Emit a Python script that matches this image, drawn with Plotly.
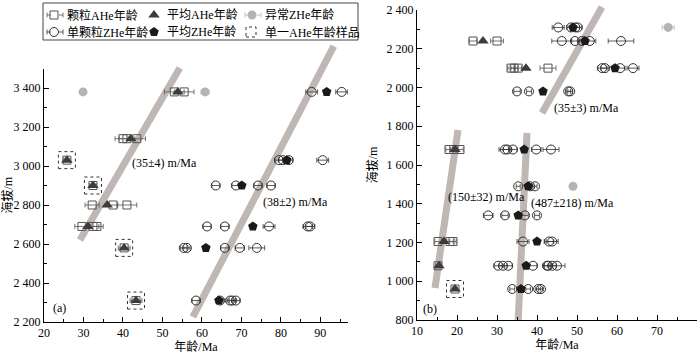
import plotly.graph_objects as go

W, H = 700, 354
FONT = "Liberation Serif, Noto Sans CJK SC"

# ---------------- data: panel (a) ----------------
a_grain_age  = [53.0, 55.5, 40.0, 41.0, 43.5, 25.8, 32.4, 32.2, 37.5, 41.0, 29.6, 32.4, 33.4, 40.3, 43.3]
a_grain_elev = [3380, 3380, 3140, 3140, 3140, 3030, 2900, 2800, 2800, 2800, 2690, 2690, 2690, 2580, 2310]
a_grain_err  = [2.5, 2.5, 2.0, 2.0, 2.2, 0.8, 0.8, 1.8, 1.2, 2.5, 1.8, 1.5, 1.6, 1.5, 1.5]

a_mean_ahe_age  = [53.9, 42.0, 25.8, 32.4, 36.0, 31.1, 40.3, 43.3]
a_mean_ahe_elev = [3380, 3140, 3030, 2900, 2800, 2690, 2580, 2310]

a_single_age  = [25.8, 32.4, 40.3, 43.3]
a_single_elev = [3030, 2900, 2580, 2310]

a_zhe_age  = [87.8, 95.4, 79.5, 80.5, 82.0, 90.6, 63.5, 68.6, 74.2, 77.5,
              61.3, 65.8, 77.0, 86.8, 87.4, 55.4, 56.2, 65.8, 69.6, 73.9,
              58.5, 64.6, 67.1, 67.7, 68.6]
a_zhe_elev = [3380, 3380, 3030, 3030, 3030, 3030, 2900, 2900, 2900, 2900,
              2690, 2690, 2690, 2690, 2690, 2580, 2580, 2580, 2580, 2580,
              2310, 2310, 2310, 2310, 2310]
a_zhe_err  = [1.5, 1.5, 1.0, 1.0, 1.0, 1.5, 1.0, 1.0, 1.0, 1.0,
              1.0, 1.0, 1.5, 1.2, 1.2, 0.8, 0.8, 1.0, 1.2, 2.0,
              1.0, 0.8, 0.8, 0.8, 1.0]

a_mean_zhe_age  = [91.6, 81.5, 70.1, 72.9, 61.0, 64.3]
a_mean_zhe_elev = [3380, 3030, 2900, 2690, 2580, 2310]

a_odd_age  = [29.9, 60.8]
a_odd_elev = [3380, 3380]
a_odd_err  = [0.0, 1.0]

a_fit1_age, a_fit1_elev = [29.1, 54.4], [2620, 3503]
a_fit2_age, a_fit2_elev = [57.7, 93.4], [2226, 3615]

a_labels      = ["(35±4) m/Ma", "(38±2) m/Ma", "(a)"]
a_label_age   = [50.6, 83.8, 23.8]
a_label_elev  = [3015, 2815, 2272]

# ---------------- data: panel (b) ----------------
b_grain_age  = [24.0, 30.0, 33.5, 34.3, 35.3, 42.75, 18.0, 19.2, 20.75, 15.25, 18.25, 19.0, 15.25, 19.5]
b_grain_elev = [2240, 2240, 2100, 2100, 2100, 2100, 1680, 1680, 1680, 1205, 1205, 1205, 1080, 960]
b_grain_err  = [1.0, 1.6, 0.8, 0.8, 0.8, 2.0, 0.8, 0.8, 0.8, 0.8, 0.8, 0.8, 0.6, 0.6]

b_mean_ahe_age  = [26.5, 37.25, 19.5, 16.75, 15.5, 19.5]
b_mean_ahe_elev = [2240, 2100, 1680, 1205, 1080, 960]

b_single_age  = [19.5]
b_single_elev = [960]

b_zhe_age  = [45.3, 48.5, 49.6, 50.2,
              46.2, 49.5, 51.2, 53.2, 61.0,
              56.3, 57.0, 60.8, 64.0,
              35.0, 38.0, 47.8, 48.3,
              32.0, 32.6, 34.0, 39.8, 43.5,
              35.3, 38.3, 39.5,
              27.8, 32.0, 37.0, 40.0,
              36.5, 43.0, 43.8,
              30.3, 31.5, 32.8, 39.0, 42.5, 42.8, 43.8, 45.0,
              33.8, 37.8, 40.3, 41.0]
b_zhe_elev = [2310, 2310, 2310, 2310,
              2240, 2240, 2240, 2240, 2240,
              2100, 2100, 2100, 2100,
              1980, 1980, 1980, 1980,
              1680, 1680, 1680, 1680, 1680,
              1490, 1490, 1490,
              1340, 1340, 1340, 1340,
              1205, 1205, 1205,
              1080, 1080, 1080, 1080, 1080, 1080, 1080, 1080,
              960, 960, 960, 960]
b_zhe_err  = [1.5, 1.0, 1.0, 1.0,
              2.5, 1.0, 1.0, 1.5, 3.2,
              1.2, 1.0, 1.2, 1.5,
              0.8, 0.6, 0.6, 0.6,
              1.5, 1.0, 1.0, 1.2, 2.0,
              0.5, 0.5, 0.5,
              1.2, 0.8, 0.8, 0.6,
              1.5, 1.2, 1.5,
              1.0, 1.0, 1.0, 1.0, 1.0, 1.0, 1.0, 2.0,
              0.6, 0.6, 0.6, 0.6]

b_mean_zhe_age  = [49.0, 52.0, 59.5, 41.5, 36.8, 37.8, 35.3, 40.0, 37.3, 36.0]
b_mean_zhe_elev = [2310, 2240, 2100, 1980, 1680, 1490, 1340, 1205, 1080, 960]

b_odd_age  = [72.8, 49.0]
b_odd_elev = [2310, 1490]
b_odd_err  = [1.5, 0.0]

b_fitA_age, b_fitA_elev = [14.5, 20.25], [965, 1781]
b_fitB_age, b_fitB_elev = [35.3, 37.5], [800, 1765]
b_fitC_age, b_fitC_elev = [41.25, 56.25], [1868, 2415]

b_labels     = ["(35±3) m/Ma", "(150±32) m/Ma", "(487±218) m/Ma", "(b)"]
b_label_age  = [52.25, 27.25, 48.75, 13.25]
b_label_elev = [1894, 1435, 1404, 857]

legend_names = ["颗粒AHe年龄", "平均AHe年龄", "异常ZHe年龄",
                "单颗粒ZHe年龄", "平均ZHe年龄", "单一AHe年龄样品"]

# ---------------- styles ----------------
FIT_COLOR = "#bfb7b4"
GRAY_DARK = "#3c3c3c"
ODD_COLOR = "#b4b4b4"
SQ_COLOR = "#555"
CI_COLOR = "#333"

fig = go.Figure()

def err(arr, color="#444"):
    return dict(type="data", array=arr, symmetric=True, thickness=0.8, width=2.5, color=color)

def fit(x, y, xa, ya):
    fig.add_trace(go.Scatter(x=x, y=y, xaxis=xa, yaxis=ya, mode="lines",
                             line=dict(color=FIT_COLOR, width=7), showlegend=False,
                             hoverinfo="skip"))

def panel(xa, ya, grain, mean_ahe, zhe, mean_zhe, odd, legend_on):
    fig.add_trace(go.Scatter(x=odd[0], y=odd[1], xaxis=xa, yaxis=ya, mode="markers",
                             error_x=err(odd[2], ODD_COLOR),
                             marker=dict(symbol="circle", size=9, color=ODD_COLOR),
                             name="", legend="legend3", showlegend=legend_on))
    fig.add_trace(go.Scatter(x=grain[0], y=grain[1], xaxis=xa, yaxis=ya, mode="markers",
                             error_x=err(grain[2], SQ_COLOR),
                             marker=dict(symbol="square-open", size=8, color=SQ_COLOR,
                                         line=dict(width=1)),
                             name="", legend="legend", showlegend=legend_on))
    fig.add_trace(go.Scatter(x=zhe[0], y=zhe[1], xaxis=xa, yaxis=ya, mode="markers",
                             error_x=err(zhe[2], CI_COLOR),
                             marker=dict(symbol="circle-open", size=9, color=CI_COLOR,
                                         line=dict(width=1)),
                             name="", legend="legend4", showlegend=legend_on))
    fig.add_trace(go.Scatter(x=mean_ahe[0], y=mean_ahe[1], xaxis=xa, yaxis=ya, mode="markers",
                             marker=dict(symbol="triangle-up", size=10, color=GRAY_DARK),
                             name="", legend="legend2", showlegend=legend_on))
    fig.add_trace(go.Scatter(x=mean_zhe[0], y=mean_zhe[1], xaxis=xa, yaxis=ya, mode="markers",
                             marker=dict(symbol="pentagon", size=10, color="#1a1a1a"),
                             name="", legend="legend5", showlegend=legend_on))

# regression lines (drawn in underlying subplots so they stay behind the points)
fit(a_fit1_age, a_fit1_elev, "x", "y")
fit(a_fit2_age, a_fit2_elev, "x", "y")
panel("x2", "y2",
      (a_grain_age, a_grain_elev, a_grain_err),
      (a_mean_ahe_age, a_mean_ahe_elev),
      (a_zhe_age, a_zhe_elev, a_zhe_err),
      (a_mean_zhe_age, a_mean_zhe_elev),
      (a_odd_age, a_odd_elev, a_odd_err), True)
fit(b_fitA_age, b_fitA_elev, "x3", "y3")
fit(b_fitB_age, b_fitB_elev, "x3", "y3")
fit(b_fitC_age, b_fitC_elev, "x3", "y3")
panel("x4", "y4",
      (b_grain_age, b_grain_elev, b_grain_err),
      (b_mean_ahe_age, b_mean_ahe_elev),
      (b_zhe_age, b_zhe_elev, b_zhe_err),
      (b_mean_zhe_age, b_mean_zhe_elev),
      (b_odd_age, b_odd_elev, b_odd_err), False)

# ---------------- layout geometry (pixels) ----------------
A_X = (44, 348);  A_XR = [20, 97]
A_Y = (322, 68.5); A_YR = [2200, 3500]
B_X = (417, 697); B_XR = [10, 80]
B_Y = (320, 10);  B_YR = [800, 2400]

def ext_range(rng, pix, new_top):
    # extend the value range linearly so that the top reaches pixel new_top
    scale = (rng[1] - rng[0]) / (pix[0] - pix[1])
    return [rng[0], rng[0] + (pix[0] - new_top) * scale]

def xdom(p): return [p[0] / W, p[1] / W]
def ydom(p): return [1 - p[0] / H, 1 - p[1] / H]

tickfont = dict(family=FONT, size=12, color="black")
titlefont = dict(family=FONT, size=12, color="black")

def vis_axis(**kw):
    d = dict(showline=True, linecolor="black", linewidth=1, ticks="inside", ticklen=5,
             tickwidth=1, tickcolor="black", showgrid=False, zeroline=False,
             tickfont=tickfont, automargin=False)
    d.update(kw)
    return d

A_top_ext = 40
B_top_ext = 0

fig.update_layout(
    width=W, height=H, margin=dict(l=0, r=0, t=0, b=0),
    paper_bgcolor="white", plot_bgcolor="rgba(0,0,0,0)",
    separators=". ",
    font=dict(family=FONT, size=12, color="black"),
    xaxis=dict(domain=xdom(A_X), range=A_XR, visible=False, anchor="y"),
    yaxis=dict(domain=ydom((A_Y[0], A_top_ext)), range=ext_range(A_YR, A_Y, A_top_ext),
               visible=False, anchor="x"),
    xaxis2=vis_axis(domain=xdom(A_X), range=A_XR, anchor="y2", tick0=0, dtick=10,
                    minor=dict(dtick=5, tick0=0, ticks="inside", ticklen=3, tickcolor="black"),
                    title=dict(text="年龄/Ma", font=titlefont, standoff=2)),
    yaxis2=vis_axis(domain=ydom(A_Y), range=A_YR, anchor="x2", tick0=0, dtick=200,
                    tickformat=",d",
                    minor=dict(dtick=100, tick0=0, ticks="inside", ticklen=3, tickcolor="black"),
                    title=dict(text="海拔/m", font=titlefont, standoff=2)),
    xaxis3=dict(domain=xdom(B_X), range=B_XR, visible=False, anchor="y3"),
    yaxis3=dict(domain=ydom((B_Y[0], B_top_ext)), range=ext_range(B_YR, B_Y, B_top_ext),
                visible=False, anchor="x3"),
    xaxis4=vis_axis(domain=xdom(B_X), range=B_XR, anchor="y4", tick0=0, dtick=10,
                    minor=dict(dtick=5, tick0=0, ticks="inside", ticklen=3, tickcolor="black"),
                    title=dict(text="年龄/Ma", font=titlefont, standoff=2)),
    yaxis4=vis_axis(domain=ydom(B_Y), range=B_YR, anchor="x4", tick0=0, dtick=200,
                    tickformat=",d",
                    minor=dict(dtick=100, tick0=0, ticks="inside", ticklen=3, tickcolor="black"),
                    title=dict(text="海拔/m", font=titlefont, standoff=6)),
    showlegend=True,
)

# legend: six one-symbol legends in a 3x2 grid; their labels are placed as annotations
leg_text_x = [65, 165, 263, 65, 165, 263]
leg_row_y = [15, 15, 15, 32, 32, 32]
leg_keys = ["legend", "legend2", "legend3", "legend4", "legend5"]
for k, tx, ty in zip(leg_keys, leg_text_x, leg_row_y):
    sym_x = tx - 10
    fig.update_layout({k: dict(x=(sym_x - 21) / W, y=1 - ty / H, xanchor="left", yanchor="middle",
                               bgcolor="rgba(0,0,0,0)", borderwidth=0, itemwidth=30,
                               font=dict(family=FONT, size=12, color="black"))})

shapes = []
shapes.append(dict(type="rect", xref="paper", yref="paper",
                   x0=43 / W, x1=358 / W, y0=1 - 40 / H, y1=1 - 3 / H,
                   line=dict(color="#444", width=1)))
# error-bar whiskers for legend keys 0 (grain AHe), 2 (odd ZHe), 3 (single ZHe)
for idx, col in [(0, SQ_COLOR), (2, ODD_COLOR), (3, CI_COLOR)]:
    sx, sy = leg_text_x[idx] - 10, leg_row_y[idx]
    for a, b in [(sx - 8, sx - 4), (sx + 4, sx + 8)]:
        shapes.append(dict(type="line", xref="paper", yref="paper", x0=a / W, x1=b / W,
                           y0=1 - sy / H, y1=1 - sy / H, line=dict(color=col, width=0.8)))
    for cx in (sx - 8, sx + 8):
        shapes.append(dict(type="line", xref="paper", yref="paper", x0=cx / W, x1=cx / W,
                           y0=1 - (sy - 2.5) / H, y1=1 - (sy + 2.5) / H,
                           line=dict(color=col, width=0.8)))
# dashed icon for the last legend entry
sx6, sy6 = leg_text_x[5] - 12, leg_row_y[5]
shapes.append(dict(type="rect", xref="paper", yref="paper",
                   x0=(sx6 - 5) / W, x1=(sx6 + 5) / W,
                   y0=1 - (sy6 + 5) / H, y1=1 - (sy6 - 5) / H,
                   line=dict(color="#333", width=1, dash="dot")))
for xa, ya, ages, elevs in [("x2", "y2", a_single_age, a_single_elev),
                            ("x4", "y4", b_single_age, b_single_elev)]:
    for ag, el in zip(ages, elevs):
        shapes.append(dict(type="rect", xref=xa, yref=ya, xsizemode="pixel", ysizemode="pixel",
                           xanchor=ag, yanchor=el, x0=-8.5, x1=8.5, y0=-8.5, y1=8.5,
                           line=dict(color="#333", width=1, dash="dot"), layer="above"))
fig.update_layout(shapes=shapes)

annots = []
for xa, ya, texts, xs, ys in [("x2", "y2", a_labels, a_label_age, a_label_elev),
                              ("x4", "y4", b_labels, b_label_age, b_label_elev)]:
    for t, x, y in zip(texts, xs, ys):
        annots.append(dict(text=t, x=x, y=y, xref=xa, yref=ya, showarrow=False,
                           font=dict(family=FONT, size=12, color="black")))
for t, tx, ty in zip(legend_names, leg_text_x, leg_row_y):
    annots.append(dict(text=t, x=tx / W, y=1 - ty / H, xref="paper", yref="paper",
                       xanchor="left", yanchor="middle", showarrow=False,
                       font=dict(family=FONT, size=12, color="black")))
fig.update_layout(annotations=annots)

fig.write_html("out.html")
